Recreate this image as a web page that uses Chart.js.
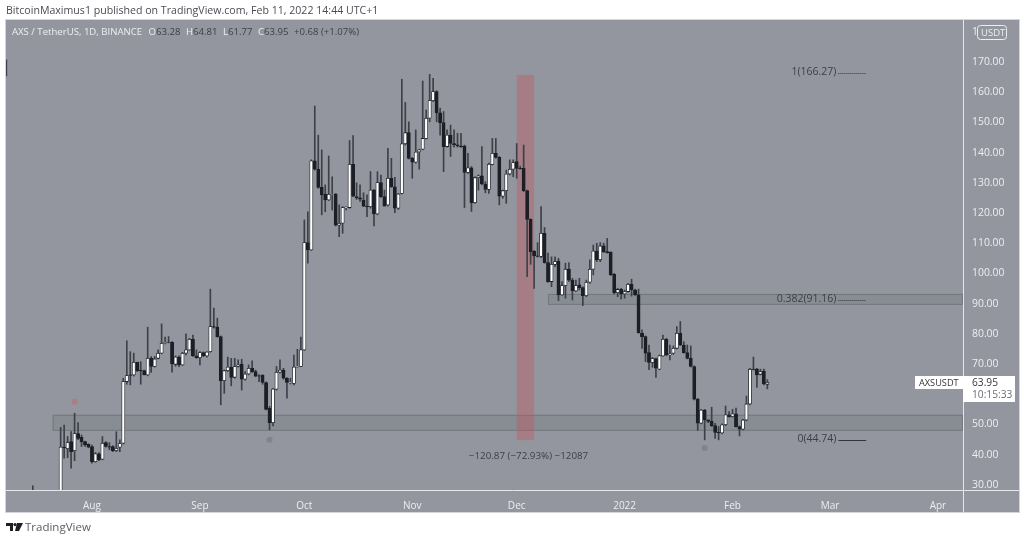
<!DOCTYPE html>
<html>
<head>
<meta charset="utf-8">
<title>AXSUSDT</title>
<script src="https://cdn.jsdelivr.net/npm/chart.js@4/dist/chart.umd.min.js"></script>
<style>
	html, body { margin: 0; padding: 0; background: #fff; width: 1024px; height: 540px; overflow: hidden; }
	#wrap { position: relative; width: 1024px; height: 540px; }
	canvas { position: absolute; left: 0; top: 0; }
	.txt { position: absolute; white-space: nowrap; font-family: "Open Sans", sans-serif; }
	#published { left: 6px; top: 2px; font-size: 10.6px; line-height: 16px; color: #4a4d55; }
	#legend { left: 12px; top: 25px; font-size: 9.6px; line-height: 14px; color: #eceef2; }
	#legend span { color: #3c3f47; }
	#legend b { font-weight: 400; color: #eceef2; margin-left: 3px; }
	#brand { left: 25px; top: 519px; font-size: 11.5px; line-height: 16px; color: #5a5d64; }
	#logo { position: absolute; left: 6px; top: 523px; }
</style>
</head>
<body>
<div id="wrap">
	<canvas id="chart" width="1024" height="540"></canvas>
	<div class="txt" id="published">BitcoinMaximus1 published on TradingView.com, Feb 11, 2022 14:44 UTC+1</div>
	<div class="txt" id="legend">AXS / TetherUS, 1D, BINANCE <b style="margin-left:4px">O</b><span>63.28</span> <b>H</b><span>64.81</span> <b>L</b><span>61.77</span> <b>C</b><span>63.95</span> <span style="margin-left:3px">+0.68 (+1.07%)</span></div>
	<svg id="logo" width="17" height="9" viewBox="0 0 17 9"><path d="M0 0h7v8H4V3H0z M11 0h6l-4 8H9z" fill="#1c1f26"/><circle cx="9" cy="1.6" r="1.6" fill="#1c1f26"/></svg>
	<div class="txt" id="brand">TradingView</div>
</div>
<script>
// daily candles, index 0 = Jul 23 2021, last one = Feb 11 2022
const opens = [
	18, 42.5, 42, 44.3, 41.3, 47, 45.7, 44.3, 43.4, 42.7,
	37.7, 40.3, 38.5, 44, 42.7, 42.7, 41.3, 42.5, 43.8, 64.2,
	66.4, 66.4, 70.6, 67.9, 67.8, 66.4, 71.9, 69.2, 71.9, 73.6,
	76.9, 77.3, 77.2, 69.9, 72.3, 69.7, 73.6, 74.7, 78.2, 72.7,
	72.1, 73.8, 72.7, 74.1, 82.4, 82.2, 79.1, 64.5, 67.8, 69,
	65.6, 69.2, 70, 65, 66.7, 68.6, 67.5, 66.1, 66.3, 63.9,
	55.3, 50.6, 61.7, 67.3, 68, 65.3, 63.9, 63.6, 69.1, 69.2,
	74.7, 110.2, 107.8, 137.3, 134.5, 128.5, 126.2, 124.3, 126.2, 126.3,
	116, 116.6, 121.8, 121.8, 136.1, 125.4, 125, 124.3, 122.3, 122.1,
	127.6, 119.7, 130.1, 125.4, 122.7, 131.5, 128.7, 121.6, 126.5, 142.9,
	146.6, 138.1, 136.8, 140.2, 141.1, 144.7, 151.4, 157.2, 160.2, 153.2,
	149.9, 142, 145.8, 143, 142.6, 142.2, 142.2, 133.4, 135, 123.4,
	131.7, 132.3, 129.6, 127.8, 136.1, 139.8, 138.4, 125.6, 127.4, 132.9,
	134.5, 137, 134.8, 134.8, 127.4, 117.9, 107.4, 105.8, 105.6, 113.3,
	103.6, 97.3, 103, 104.1, 92.9, 96, 101.4, 97.8, 94.2, 96.2,
	95.3, 92.6, 97.1, 101.4, 107.4, 104.5, 109.1, 107.2, 107, 99.7,
	93.65, 94.7, 93.2, 94, 96.4, 94.5, 92.9, 80.2, 79.1, 73.8,
	70.5, 71.8, 68.3, 72.7, 78.2, 73, 73.6, 75.2, 80.2, 76.3,
	73.8, 71.9, 69.2, 58.4, 50.4, 54.8, 51.5, 51, 49.6, 47.4,
	47.2, 49.9, 53.2, 52.6, 53.5, 49.3, 48.4, 51.5, 56.8, 68.3,
	68.3, 66.6, 67.7, 63.28
];
const closes = [
	42.5, 42.3, 44, 41, 47, 45.4, 44.3, 43.2, 42.5, 37.7,
	40.3, 38.3, 43.8, 42.7, 42.5, 41.3, 42.1, 43.7, 64.2, 66.2,
	66.2, 70.6, 67.8, 67.7, 66.4, 71.9, 69.2, 71.7, 73.6, 76.9,
	77.1, 77.2, 70, 72.3, 69.7, 73.6, 74.7, 78.2, 72.7, 72.1,
	73.8, 72.7, 74, 82.4, 82.2, 79.1, 64.5, 67.8, 69, 65.6,
	69.2, 69.7, 65, 66.7, 68.6, 67.5, 66, 66, 63.9, 55,
	50.6, 61.7, 67.3, 68, 65.3, 63.9, 64, 69, 69.2, 74.7,
	110.2, 107.8, 137.3, 134.5, 128.5, 126, 124.3, 126.2, 126.3, 116,
	116.6, 121.8, 121.9, 136.1, 125.6, 125, 124.6, 122.3, 122.1, 127.6,
	119.7, 130.1, 125.4, 122.3, 131.5, 128.7, 121.6, 126.3, 142.9, 146.6,
	138.1, 136.8, 140.2, 140.9, 144.7, 151.4, 157.2, 160.2, 153.2, 149.9,
	142, 145.8, 143, 142.6, 142.2, 142, 133.4, 135, 123.4, 131.7,
	132.3, 129.6, 127.8, 136.1, 139.8, 138.4, 125.6, 127.4, 132.9, 134.5,
	136.7, 134.8, 134.7, 127.4, 117.9, 107.2, 105.8, 105.6, 113.3, 103.6,
	97.3, 103, 103.9, 92.9, 96, 101.4, 97.8, 94.2, 96, 95.3,
	92.6, 97.1, 101.4, 107.4, 104.5, 109.1, 107.2, 106.9, 99.5, 93.65,
	94.7, 93.2, 94, 96.4, 94.5, 92.9, 80.4, 79.1, 73.6, 70.5,
	71.8, 68.6, 72.7, 78.2, 73, 73.4, 75.2, 80.2, 76.3, 73.8,
	71.9, 69.2, 58.4, 50.4, 54.8, 51.5, 51, 49.6, 47.4, 47.2,
	49.9, 53.2, 52.6, 53.5, 49.3, 48.4, 51.5, 56.8, 68.3, 68.2,
	66.4, 67.5, 63.4, 63.95
];
const highs = [
	49, 49.8, 46, 47.6, 53.7, 50.6, 46.5, 44.5, 43.6, 43.2,
	40.7, 40.7, 46, 44.3, 44, 43, 47.6, 44.9, 65.3, 77.7,
	74.1, 73.6, 70.6, 70.8, 68, 82.2, 72.5, 72.5, 74.7, 83.3,
	78.9, 79.1, 77.4, 72.7, 72.7, 73.9, 80, 78.5, 79.6, 74.7,
	74.1, 74, 74.1, 94.8, 88.5, 85.2, 79.3, 68, 72.3, 71.9,
	71.9, 71.4, 71.6, 67.5, 69.7, 71.1, 68, 66.5, 66.5, 64.1,
	56, 62, 69.2, 71.4, 68.6, 65.5, 65.3, 73, 74.9, 78.9,
	117.7, 120.4, 137.6, 155.4, 145.8, 140.9, 129.3, 138.9, 132, 126.5,
	122.7, 122.1, 122.1, 144, 145.6, 130, 129.3, 126.7, 126, 133.7,
	127.8, 133.7, 132.6, 127.6, 141.4, 138.1, 131.8, 126.5, 164.3, 156.6,
	150.2, 138.4, 147.5, 141.1, 163.7, 154.1, 165.9, 164.6, 160.5, 154.7,
	153.6, 147.5, 149.1, 147.5, 146.4, 146.4, 142.5, 139.8, 135.4, 132,
	132.6, 142, 130.4, 136.5, 144.7, 144.7, 138.7, 127.6, 134.2, 137.6,
	137.6, 143, 135.5, 142.5, 127.6, 118.1, 107.6, 110.2, 122.1, 115.2,
	106.7, 105.5, 105.5, 105, 97.3, 103.4, 103.6, 98.4, 97.8, 98.4,
	95.6, 97.8, 104.5, 109.4, 110, 110.2, 110, 111.6, 107.2, 100,
	95.1, 95.1, 94.5, 96.7, 98.1, 94.8, 94.8, 81.3, 79.3, 76.3,
	72.2, 72, 73, 79.6, 78.5, 76.3, 76, 82.4, 84.1, 77.4,
	76.3, 76, 69.4, 58.6, 55, 55, 51.5, 55.7, 50.4, 49.3,
	50.2, 56.1, 54.3, 55, 55.4, 49.5, 51.7, 59.4, 68.6, 72.3,
	68.6, 68.3, 68.3, 64.81
];
const lows = [
	18, 38.8, 39, 35.5, 38, 45, 42.7, 42.7, 42.3, 37.2,
	37.5, 38, 38.3, 42.5, 41.6, 41, 41, 41, 43.5, 63.3,
	63.1, 66, 67.5, 63.3, 66.4, 66.1, 67.2, 69, 71.7, 73.4,
	76.7, 77, 67.3, 69.3, 69.1, 69.5, 73, 74.5, 72.5, 71.9,
	69.7, 72.5, 72.3, 73.9, 81.9, 78.9, 56.5, 60.3, 67.5, 62.8,
	65.3, 69, 61.4, 64.7, 66.4, 67.2, 65.8, 64.2, 63.3, 54.8,
	48.2, 49.5, 61.4, 67, 65, 58.7, 63.4, 63.1, 68.9, 69.1,
	74.5, 103.4, 107.6, 134.2, 128.2, 119.4, 120.4, 124.1, 121, 115.7,
	112.2, 113.3, 121, 121.6, 125.4, 124.5, 123.8, 122.1, 118.8, 121.6,
	115.7, 119.4, 125.2, 122.3, 122.3, 128.5, 120.1, 121.2, 126.3, 142.5,
	137.9, 131.5, 136.5, 134.5, 140.9, 144.5, 150.2, 156.9, 150.2, 145.8,
	133.7, 141.8, 138.7, 141.8, 141.8, 141.7, 121.8, 133.1, 120.5, 123.2,
	127.6, 129.3, 126.7, 126.5, 135.9, 138.1, 122.7, 124.9, 123.2, 132.6,
	132, 131.5, 134.5, 127.1, 98.9, 103, 95, 105.4, 105.2, 103.4,
	97, 95.6, 102.2, 91, 92.7, 91.8, 97.3, 91.2, 94, 94.5,
	89.3, 92.3, 96.7, 99.5, 103.9, 103.9, 106.9, 106.7, 99.3, 93.2,
	92.3, 91.5, 91.8, 93.8, 92.5, 92.7, 80.2, 75.2, 70.8, 68.1,
	68.9, 65.6, 68.1, 72.5, 72.7, 71.4, 73.2, 75, 76.1, 73.6,
	71.7, 69, 58.1, 48, 50.2, 44.9, 50.6, 49.3, 45.4, 44.9,
	46.9, 49.6, 52.4, 52.4, 49.1, 46.2, 48.2, 51.2, 56.5, 68,
	62.3, 66.4, 63.1, 61.77
];

// two stray wick stubs left of the series [day, low, high]
const strayDays = [-15.6, -8];
const strayLows = [165.4, 25];
const strayHighs = [170.7, 29.7];

const reactionDays = [4, 60, 185];
const reactionValues = [57.5, 44.9, 42.2];
const reactionColors = ['rgba(196,104,112,0.55)', 'rgba(108,111,118,0.45)', 'rgba(108,111,118,0.45)'];

const monthTickDays = [9, 40, 70, 101, 131, 162, 193, 221, 252];
const monthTickLabels = ['Aug', 'Sep', 'Oct', 'Nov', 'Dec', '2022', 'Feb', 'Mar', 'Apr'];

const fibLabels = ['1(166.27)', '0.382(91.16)', '0(44.74)'];
const fibValues = [166.27, 91.16, 44.74];
const fibDashes = [[1, 1], [1, 1], []];
const measureLabel = '\u2212120.87 (\u221272.93%) \u221212087';

const xMin = -15.7;
const xMax = 259.2;
const yMin = 28.3;
const yMax = 183.9;

const FONT = '"Open Sans", sans-serif';
const GREY = '#93969e';
const DARK = '#1c1f26';
const WICK = '#3d4048';
const LINE = '#e6e7ea';

const candleDays = opens.map((_, i) => i);

const drawBox = (ctx, scales, d1, d2, v1, v2, fill, stroke) => {
	const x1 = scales.x.getPixelForValue(d1);
	const x2 = Math.min(scales.x.getPixelForValue(d2), scales.x.right);
	const y1 = scales.y.getPixelForValue(v1);
	const y2 = scales.y.getPixelForValue(v2);
	ctx.fillStyle = fill;
	ctx.fillRect(x1, y1, x2 - x1, y2 - y1);
	if (stroke) {
		ctx.strokeStyle = stroke;
		ctx.lineWidth = 1;
		ctx.strokeRect(x1 + 0.5, y1 + 0.5, x2 - x1 - 1, y2 - y1 - 1);
	}
};

const chartDecor = {
	id: 'chartDecor',
	beforeDraw(chart) {
		const { ctx, chartArea } = chart;
		ctx.save();
		ctx.fillStyle = GREY;
		ctx.fillRect(chartArea.left, chartArea.top, 1019 - chartArea.left, 512 - chartArea.top);
		ctx.restore();
	},
	beforeDatasetsDraw(chart) {
		const { ctx, scales } = chart;
		ctx.save();
		drawBox(ctx, scales, -2.3, xMax, 53.2, 47.9, 'rgba(96,99,106,0.2)', '#74777e');
		drawBox(ctx, scales, 140, xMax, 93.2, 89.6, 'rgba(96,99,106,0.2)', '#74777e');
		drawBox(ctx, scales, 131, 136, 165.7, 44.8, 'rgba(196,84,92,0.38)', null);
		ctx.restore();
	},
	afterDraw(chart) {
		const { ctx, chartArea, scales } = chart;
		ctx.save();

		// pale outer frame
		ctx.strokeStyle = '#d4d5d9';
		ctx.lineWidth = 1;
		ctx.strokeRect(chartArea.left - 0.5, chartArea.top - 0.5, 1019 - chartArea.left + 1, 512 - chartArea.top + 1);

		// white axis lines, they run through the axis strips too
		ctx.strokeStyle = LINE;
		ctx.beginPath();
		ctx.moveTo(chartArea.right + 0.5, chartArea.top);
		ctx.lineTo(chartArea.right + 0.5, 512);
		ctx.moveTo(chartArea.left, chartArea.bottom + 0.5);
		ctx.lineTo(1019, chartArea.bottom + 0.5);
		ctx.stroke();

		// fib levels
		ctx.font = '10.5px ' + FONT;
		ctx.fillStyle = '#3c3f47';
		ctx.textAlign = 'right';
		ctx.textBaseline = 'middle';
		ctx.strokeStyle = '#33363d';
		const lineStart = scales.x.getPixelForValue(223.4);
		const lineEnd = scales.x.getPixelForValue(231.4);
		fibLabels.forEach((label, i) => {
			const y = Math.round(scales.y.getPixelForValue(fibValues[i])) + 0.5;
			ctx.fillText(label, lineStart - 2, y - 1);
			ctx.setLineDash(fibDashes[i]);
			ctx.beginPath();
			ctx.moveTo(lineStart, y);
			ctx.lineTo(lineEnd, y);
			ctx.stroke();
		});
		ctx.setLineDash([]);

		ctx.textAlign = 'center';
		ctx.font = '9.8px ' + FONT;
		ctx.fillText(measureLabel, scales.x.getPixelForValue(134.4), scales.y.getPixelForValue(39.6));

		// last price tag
		ctx.fillStyle = '#ffffff';
		ctx.fillRect(915, 376, 48, 13);
		ctx.fillRect(chartArea.right, 376, 52, 26);
		ctx.textAlign = 'left';
		ctx.font = '9.2px ' + FONT;
		ctx.fillStyle = '#33363d';
		ctx.fillText('AXSUSDT', 919, 383);
		ctx.font = '10.2px ' + FONT;
		ctx.fillText('63.95', 972, 383);
		ctx.fillStyle = '#6a6d75';
		ctx.fillText('10:15:33', 972, 395);

		// currency badge
		ctx.fillStyle = GREY;
		ctx.strokeStyle = '#eceef2';
		ctx.beginPath();
		ctx.roundRect(977.5, 25.5, 29, 14, 3);
		ctx.fill();
		ctx.stroke();
		ctx.fillStyle = '#eceef2';
		ctx.font = '9.5px ' + FONT;
		ctx.fillText('USDT', 981, 33);
		ctx.restore();
	}
};

document.addEventListener('DOMContentLoaded', () => {
	const isUp = candleDays.map((i) => closes[i] >= opens[i]);

	new Chart(document.getElementById('chart'), {
		type: 'bar',
		data: {
			datasets: [
				{
					label: 'bodies',
					order: 1,
					grouped: false,
					barThickness: 3.2,
					borderWidth: 0.8,
					borderSkipped: false,
					borderColor: DARK,
					backgroundColor: isUp.map((up) => (up ? '#ffffff' : DARK)),
					data: candleDays.map((i) => ({ x: i, y: [opens[i], closes[i]] }))
				},
				{
					label: 'wicks',
					order: 2,
					grouped: false,
					barThickness: 1,
					backgroundColor: WICK,
					data: candleDays.map((i) => ({ x: i, y: [lows[i], highs[i]] }))
						.concat(strayDays.map((d, i) => ({ x: d, y: [strayLows[i], strayHighs[i]] })))
				},
				{
					type: 'scatter',
					label: 'reactions',
					order: 0,
					pointRadius: 3,
					pointBackgroundColor: reactionColors,
					pointBorderWidth: 0,
					data: reactionDays.map((d, i) => ({ x: d, y: reactionValues[i] }))
				}
			]
		},
		options: {
			responsive: false,
			animation: false,
			devicePixelRatio: 1,
			layout: { padding: { left: 6, top: 20, right: 5, bottom: 28 } },
			plugins: {
				legend: { display: false },
				tooltip: { enabled: false },
				title: { display: false }
			},
			scales: {
				x: {
					type: 'linear',
					min: xMin,
					max: xMax,
					offset: false,
					grid: { display: false },
					border: { display: false },
					afterBuildTicks: (axis) => {
						axis.ticks = monthTickDays.map((value) => ({ value }));
					},
					afterFit: (axis) => { axis.height = 22; },
					ticks: {
						autoSkip: false,
						maxRotation: 0,
						padding: 2,
						color: '#eceef2',
						font: { family: FONT, size: 10 },
						callback: (value) => monthTickLabels[monthTickDays.indexOf(value)]
					}
				},
				y: {
					position: 'right',
					min: yMin,
					max: yMax,
					grid: { display: false },
					border: { display: false },
					afterFit: (axis) => { axis.width = 56; },
					ticks: {
						stepSize: 10,
						includeBounds: false,
						padding: 1,
						color: '#eceef2',
						font: { family: FONT, size: 10.4 },
						callback: (value) => value.toFixed(2)
					}
				}
			}
		},
		plugins: [chartDecor]
	});
});
</script>
</body>
</html>
